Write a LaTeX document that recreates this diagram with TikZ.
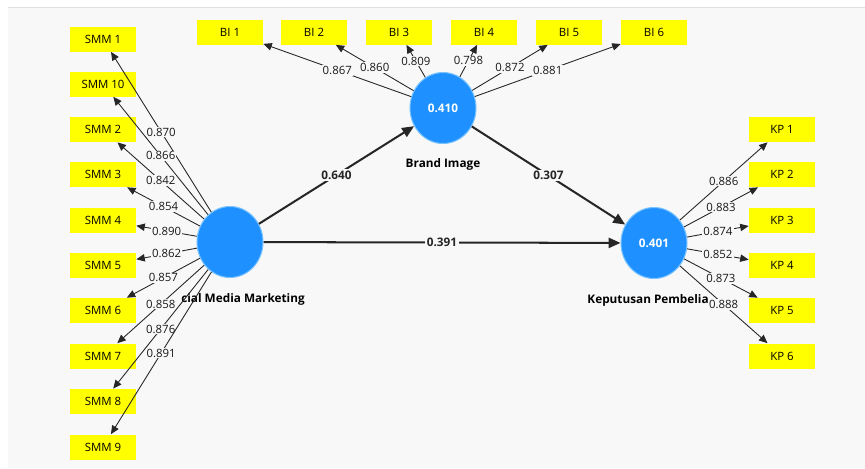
\documentclass[tikz,border=0pt]{standalone}
\usepackage{fontspec}
\setmainfont{Open Sans}
\usetikzlibrary{arrows.meta,shapes.geometric}
\definecolor{bggray}{RGB}{248,248,248}
\definecolor{lvblue}{RGB}{30,144,255}
\definecolor{lvrim}{RGB}{120,195,255}
\definecolor{indyellow}{RGB}{255,255,0}
\tikzset{
  ind/.style={fill=indyellow, minimum width=1.32cm, minimum height=0.5cm, inner sep=0pt, font=\fontsize{6.5}{7}\selectfont},
  lv/.style={ellipse, fill=lvblue, draw=lvrim, line width=0.6pt, minimum width=1.32cm, minimum height=1.42cm, inner sep=0pt, text=white, font=\bfseries\fontsize{6.7}{7}\selectfont},
  load/.style={-{Triangle[length=4.8pt,width=4.2pt]}, line width=0.5pt, black!85},
  struct/.style={-{Triangle[length=6.8pt,width=5.8pt]}, line width=1.15pt, black!85},
  wt/.style={fill=bggray, inner sep=0.6pt, text=black!90, font=\fontsize{6.5}{7}\selectfont},
  coef/.style={fill=bggray, inner sep=0.8pt, font=\bfseries\fontsize{6.7}{7}\selectfont},
  lvname/.style={inner sep=0pt, font=\bfseries\fontsize{6.7}{7}\selectfont}
}
\begin{document}
\begin{tikzpicture}[x=0.02cm,y=-0.02cm]
\useasboundingbox (0,0) rectangle (865,468);
%BACKGROUND
\fill[white] (0,0) rectangle (865,468);
\fill[bggray] (8,7) rectangle (865,468);
\draw[black!12] (8,7) -- (865,7);

%LATENT VARIABLES
\node[lv] (smm) at (230,242) {};
\node[lv] (bi) at (443,108) {0.410};
\node[lv] (kp) at (654,243) {0.401};
\node[lvname] (binm) at (443,164) {Brand Image};
\node[lvname,anchor=west] (smmnm) at (181,299) {cial Media Marketing};
\node[lvname,anchor=east] (kpnm) at (709,300) {Keputusan Pembelia};

%SOCIAL MEDIA MARKETING
\node[ind] (smm1) at (103,39) {SMM 1};
\node[ind] (smm10) at (103,84) {SMM 10};
\node[ind] (smm2) at (103,129.5) {SMM 2};
\node[ind] (smm3) at (103,174.5) {SMM 3};
\node[ind] (smm4) at (103,220) {SMM 4};
\node[ind] (smm5) at (103,265.5) {SMM 5};
\node[ind] (smm6) at (103,310.5) {SMM 6};
\node[ind] (smm7) at (103,356) {SMM 7};
\node[ind] (smm8) at (103,401.5) {SMM 8};
\node[ind] (smm9) at (103,447) {SMM 9};
\draw[load] (smm) -- node[wt]{0.870} (smm1);
\draw[load] (smm) -- node[wt]{0.866} (smm10);
\draw[load] (smm) -- node[wt]{0.842} (smm2);
\draw[load] (smm) -- node[wt]{0.854} (smm3);
\draw[load] (smm) -- node[wt]{0.890} (smm4);
\draw[load] (smm) -- node[wt]{0.862} (smm5);
\draw[load] (smm) -- node[wt]{0.857} (smm6);
\draw[load] (smm) -- node[wt]{0.858} (smm7);
\draw[load] (smm) -- node[wt]{0.876} (smm8);
\draw[load] (smm) -- node[wt]{0.891} (smm9);

%BRAND IMAGE
\node[ind] (bi1) at (230,32) {BI 1};
\node[ind] (bi2) at (314,32) {BI 2};
\node[ind] (bi3) at (399,32) {BI 3};
\node[ind] (bi4) at (484,32) {BI 4};
\node[ind] (bi5) at (569,32) {BI 5};
\node[ind] (bi6) at (654,32) {BI 6};
\draw[load] (bi) -- node[wt]{0.867} (bi1);
\draw[load] (bi) -- node[wt]{0.860} (bi2);
\draw[load] (bi) -- node[wt]{0.809} (bi3);
\draw[load] (bi) -- node[wt]{0.798} (bi4);
\draw[load] (bi) -- node[wt]{0.872} (bi5);
\draw[load] (bi) -- node[wt]{0.881} (bi6);

%KEPUTUSAN PEMBELIAN
\node[ind] (kp1) at (782,129.5) {KP 1};
\node[ind] (kp2) at (782,174.5) {KP 2};
\node[ind] (kp3) at (782,220) {KP 3};
\node[ind] (kp4) at (782,265.5) {KP 4};
\node[ind] (kp5) at (782,310.5) {KP 5};
\node[ind] (kp6) at (782,356) {KP 6};
\draw[load] (kp) -- node[wt]{0.886} (kp1);
\draw[load] (kp) -- node[wt]{0.883} (kp2);
\draw[load] (kp) -- node[wt]{0.874} (kp3);
\draw[load] (kp) -- node[wt]{0.852} (kp4);
\draw[load] (kp) -- node[wt]{0.873} (kp5);
\draw[load] (kp) -- node[wt]{0.888} (kp6);

%PATHS
\draw[struct] (smm) -- node[coef]{0.640} (bi);
\draw[struct] (bi) -- node[coef]{0.307} (kp);
\draw[struct] (smm) -- node[coef]{0.391} (kp);
\end{tikzpicture}
\end{document}
